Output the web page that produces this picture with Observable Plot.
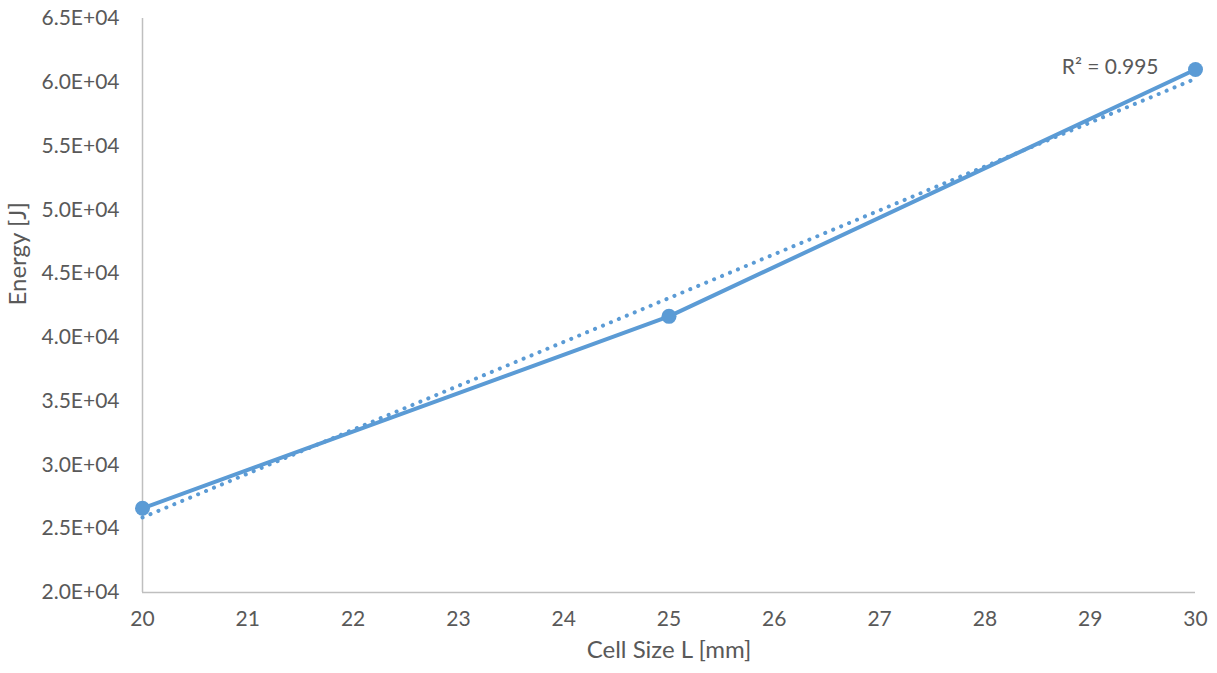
<!DOCTYPE html>
<html>
<head>
<meta charset="utf-8">
<script src="https://cdn.jsdelivr.net/npm/d3@7"></script>
<script src="https://cdn.jsdelivr.net/npm/@observablehq/plot@0.6"></script>
<style>
  html, body { margin: 0; padding: 0; background: #fff; }
  #chart svg { display: block; }
</style>
</head>
<body>
<div id="chart"></div>
<script>
const cellSize = [20, 25, 30];
const energy = [26600, 41650, 61000];
const xTicks = [20, 21, 22, 23, 24, 25, 26, 27, 28, 29, 30];
const yTicks = [20000, 25000, 30000, 35000, 40000, 45000, 50000, 55000, 60000, 65000];
const xLabel = "Cell Size L [mm]";
const yLabel = "Energy [J]";

const data = cellSize.map((x, i) => ({x, y: energy[i]}));

// R² of linear fit
const mx = d3.mean(cellSize), my = d3.mean(energy);
const slope = d3.sum(data, d => (d.x - mx) * (d.y - my)) / d3.sum(data, d => (d.x - mx) ** 2);
const icpt = my - slope * mx;
const ssRes = d3.sum(data, d => (d.y - (icpt + slope * d.x)) ** 2);
const ssTot = d3.sum(data, d => (d.y - my) ** 2);
const r2 = 1 - ssRes / ssTot;

const color = "#5B9BD5";
const textColor = "#595959";
const font = "Lato, 'Open Sans', sans-serif";

const chart = Plot.plot({
  width: 1217,
  height: 673,
  marginLeft: 142,
  marginRight: 22,
  marginTop: 18,
  marginBottom: 81,
  style: {fontFamily: font, fontSize: "21px", color: textColor, background: "#fff"},
  x: {domain: [20, 30]},
  y: {domain: [20000, 65000]},
  marks: [
    Plot.axisX({ticks: xTicks, tickSize: 0, tickPadding: 19, label: null, fontSize: 21, fill: textColor}),
    Plot.axisY({ticks: yTicks, tickSize: 0, tickPadding: 23, label: null, fontSize: 21, fill: textColor,
                tickFormat: d => (d / 1e4).toFixed(1) + "E+04"}),
    Plot.text([xLabel], {text: d => d, frameAnchor: "bottom", dy: 65, fontSize: 24, fill: textColor}),
    Plot.text([yLabel], {text: d => d, frameAnchor: "left", rotate: -90, dx: -124, fontSize: 24, fill: textColor}),
    Plot.ruleX([20], {stroke: "#bfbfbf", strokeWidth: 1.5}),
    Plot.ruleY([20000], {stroke: "#bfbfbf", strokeWidth: 1.5}),
    Plot.linearRegressionY(data, {x: "x", y: "y", ci: 0, stroke: color, strokeWidth: 4, strokeDasharray: "0.1,8.5", strokeLinecap: "round"}),
    Plot.line(data, {x: "x", y: "y", stroke: color, strokeWidth: 4}),
    Plot.dot(data, {x: "x", y: "y", r: 7.5, fill: color, stroke: "none"}),
    Plot.text([{x: 30, y: 61000}], {x: "x", y: "y", text: () => "R² = " + r2.toFixed(3), textAnchor: "end", dx: -37, dy: -2, fill: textColor, fontSize: 21})
  ]
});
document.getElementById("chart").append(chart);
</script>
</body>
</html>
